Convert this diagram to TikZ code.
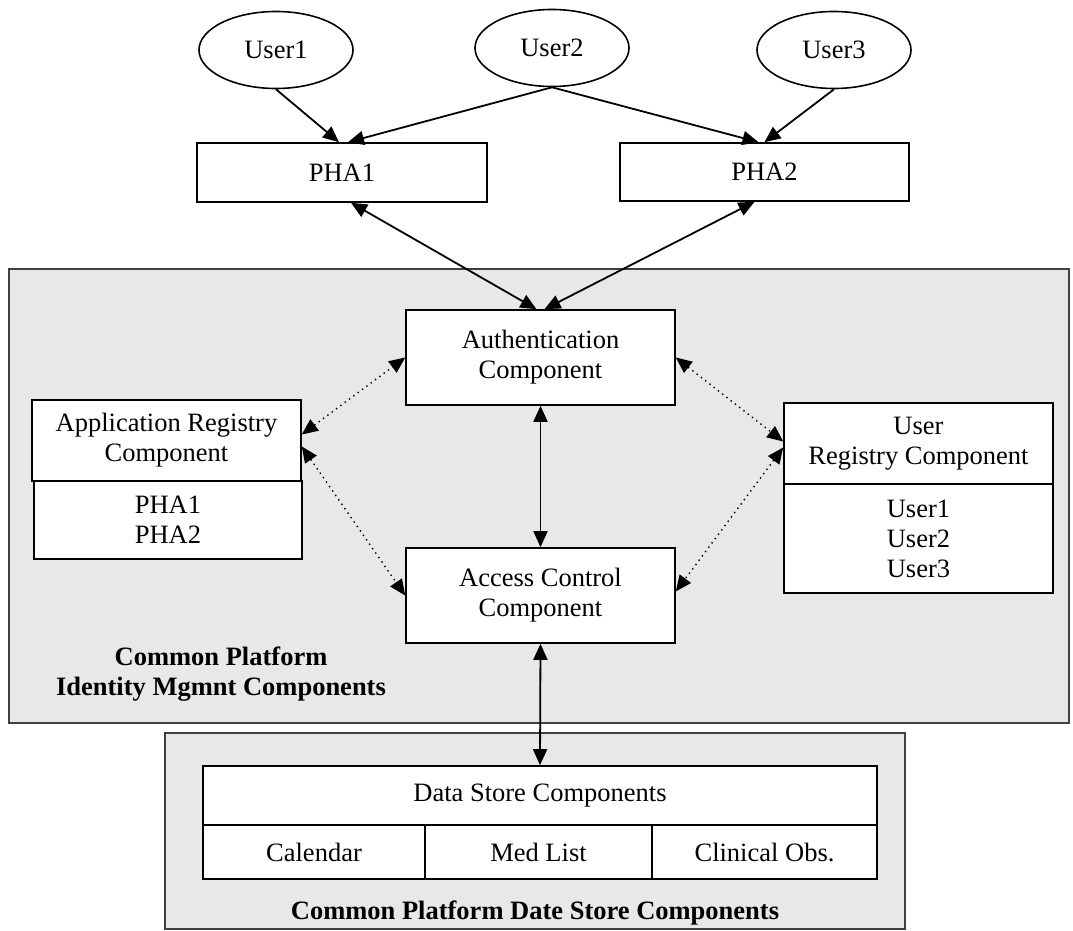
\documentclass[tikz,border=0pt]{standalone}
\usepackage{fontspec}
\setmainfont{Liberation Serif}
\usetikzlibrary{shapes.geometric,arrows.meta}

\begin{document}
\begin{tikzpicture}[x=0.5pt,y=-0.5pt,
	every node/.style={font=\fontsize{13.25}{15}\selectfont, align=center, inner sep=0pt},
	user/.style={shape=ellipse, draw=black, line width=0.8pt, minimum width=77pt, minimum height=38.5pt},
	box/.style={shape=rectangle, draw=black, fill=white, line width=0.8pt},
	panel/.style={draw=black!75, fill=black!9, line width=0.8pt},
	arr/.style={-{Triangle[length=8pt,width=7pt]}, line width=0.9pt},
	darr/.style={{Triangle[length=8pt,width=7pt]}-{Triangle[length=8pt,width=7pt]}, line width=0.9pt},
	dotarr/.style={{Triangle[length=8pt,width=7pt]}-{Triangle[length=8pt,width=7pt]}, line width=0.7pt, dotted}]
	
	\useasboundingbox (0,0) rectangle (1073,931);
	
	% the two grey platforms
	\draw[panel] (9,269) rectangle (1069,723);
	\draw[panel] (165,733) rectangle (905,929);
	
	\node[user] (u1) at (276,50)     {User1};
	\node[user] (u2) at (552,48)     {User2};
	\node[user] (u3) at (834,50)     {User3};
	
	\node[box, minimum width=145pt, minimum height=29.5pt] (pha1) at (342,172.5)   {PHA1};
	\node[box, minimum width=144.5pt, minimum height=29pt] (pha2) at (764.5,172)   {PHA2};
	
	\node[box, minimum width=134.5pt, minimum height=47.5pt] (auth) at (540.5,357.5)   {Authentication\\Component};
	\node[box, minimum width=134.5pt, minimum height=47.5pt] (acc) at (540.5,595.5)    {Access Control\\Component};
	
	\node[box, minimum width=134.5pt, minimum height=40.5pt] (appreg) at (166.5,440.5)   {Application Registry\\Component};
	\node[box, minimum width=134pt, minimum height=39pt] (applist) at (168,520)       {PHA1\\PHA2};
	
	\node[box, minimum width=134.5pt, minimum height=40.5pt] (ureg) at (918.5,443.5)   {User\\Registry Component};
	\node[box, minimum width=134.5pt, minimum height=54.5pt] (ulist) at (918.5,538.5)  {User1\\User2\\User3};
	
	\node[font=\fontsize{13.25}{15}\selectfont\bfseries] (idlabel) at (221,674)   {Common Platform\\Identity Mgmnt Components};
	
	\node[box, minimum width=337pt, minimum height=29.5pt] (store) at (540,795.5)   {Data Store Components};
	\node[box, minimum width=111pt, minimum height=27pt] (cal) at (314,852)         {Calendar};
	\node[box, minimum width=113.5pt, minimum height=27pt] (med) at (538.5,852)     {Med List};
	\node[box, minimum width=112.5pt, minimum height=27pt] (clin) at (764.5,852)    {Clinical Obs.};
	
	\node[font=\fontsize{13.25}{15}\selectfont\bfseries] (dslabel) at (535,913)   {Common Platform Date Store Components};
	
	\path[arr] (u1.south) edge ([xshift=-1.5pt]pha1.north);
	\path[arr] (u2.south) edge ([xshift=3pt]pha1.north);
	\path[arr] (u2.south) edge ([xshift=-3pt]pha2.north);
	\path[arr] (u3.south) edge (pha2.north);
	
	\path[darr] ([xshift=4.5pt]pha1.south) edge ([xshift=-2pt]auth.north);
	\path[darr] ([xshift=-5pt]pha2.south) edge ([xshift=2pt]auth.north);
	\path[darr] (auth.south) edge (acc.north);
	\path[darr] (acc.south) edge (store.north);
	
	\path[dotarr] ([yshift=3pt]appreg.east) edge (auth.west);
	\path[dotarr] ([yshift=-3pt]appreg.east) edge (acc.west);
	\path[dotarr] (auth.east) edge ([yshift=1pt]ureg.west);
	\path[dotarr] ([yshift=-2pt]ureg.west) edge ([yshift=2pt]acc.east);
	
\end{tikzpicture}
\end{document}
